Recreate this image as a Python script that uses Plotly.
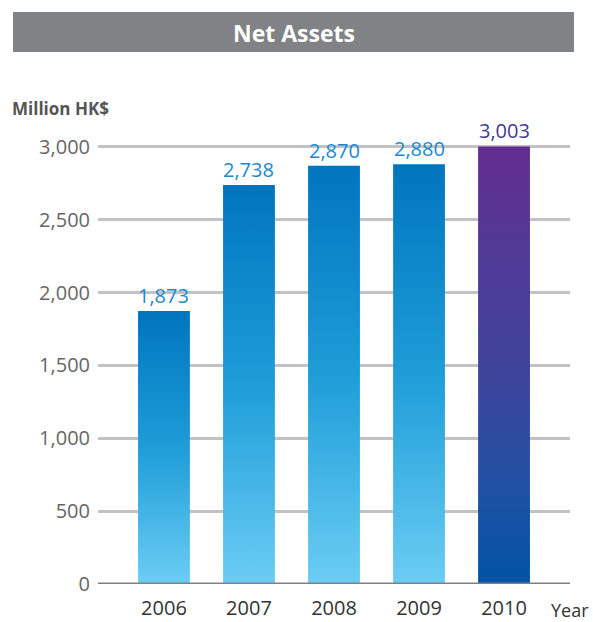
import plotly.graph_objects as go

years = ["2006", "2007", "2008", "2009", "2010"]
net_assets = [1873, 2738, 2870, 2880, 3003]
value_labels = ["1,873", "2,738", "2,870", "2,880", "3,003"]
y_ticks = [0, 500, 1000, 1500, 2000, 2500, 3000]
y_tick_labels = ["0", "500", "1,000", "1,500", "2,000", "2,500", "3,000"]

blue_scale = [[0, "#6bcdf4"], [0.5, "#1e9dd8"], [1, "#0075bf"]]
purple_scale = [[0, "#0054a6"], [0.25, "#2450a2"], [0.5, "#3f439a"], [0.75, "#503a96"], [1, "#632d90"]]

W, H = 593, 622
ML, MR, MT, MB = 98, 23, 125, 38
PW, PH = W - ML - MR, H - MT - MB

def px(x):
    return (x - ML) / PW

def py(y):
    return (H - MB - y) / PH

half = 0.305
fig = go.Figure()
for i, (yr, v) in enumerate(zip(years, net_assets)):
    scale = purple_scale if yr == "2010" else blue_scale
    fig.add_trace(go.Scatter(
        x=[i - half, i + half, i + half, i - half, i - half],
        y=[0, 0, v, v, 0],
        mode="lines", fill="toself",
        line=dict(width=0),
        fillgradient=dict(type="vertical", colorscale=scale),
        hoverinfo="skip", showlegend=False,
    ))
    fig.add_annotation(
        x=i, y=v, text=value_labels[i], showarrow=False,
        yanchor="bottom", yshift=0,
        font=dict(size=20, color="#3d3a94" if yr == "2010" else "#1a88d0",
                  family="Open Sans"),
    )

fig.update_layout(
    width=W, height=H,
    margin=dict(l=ML, r=MR, t=MT, b=MB),
    paper_bgcolor="white", plot_bgcolor="white",
    font=dict(family="Open Sans", color="#606060"),
    xaxis=dict(range=[-0.776, 4.776], tickvals=list(range(len(years))), ticktext=years,
               showgrid=False, zeroline=False, showline=False, automargin=False,
               ticklabelstandoff=10,
               tickfont=dict(size=20, color="#333333"), ticks="", fixedrange=True),
    yaxis=dict(range=[0, 3150], tickvals=y_ticks, ticktext=y_tick_labels,
               showgrid=True, gridcolor="#c2c2c6", gridwidth=2.5,
               zeroline=False, showline=False, ticks="", automargin=False,
               ticklabelstandoff=7,
               tickfont=dict(size=20, color="#666666")),
    shapes=[
        dict(type="rect", xref="paper", yref="paper",
             x0=px(13), x1=px(574), y0=py(52), y1=py(12),
             fillcolor="#818285", line=dict(width=0), layer="below"),
        dict(type="line", xref="paper", yref="y",
             x0=0, x1=1, y0=0, y1=0,
             line=dict(color="#808082", width=3), layer="above"),
    ],
    annotations=list(fig.layout.annotations) + [
        dict(text="<b>Net Assets</b>", xref="paper", yref="paper",
             x=px(294), y=py(33), xanchor="center", yanchor="middle", showarrow=False,
             font=dict(size=23, color="white", family="Open Sans")),
        dict(text="<b>Million HK$</b>", xref="paper", yref="paper",
             x=px(10), y=py(108), xanchor="left", yanchor="middle", showarrow=False,
             font=dict(size=17, color="#555555", family="Open Sans")),
        dict(text="Year", xref="paper", yref="paper",
             x=px(549), y=py(610), xanchor="left", yanchor="middle", showarrow=False,
             font=dict(size=18, color="#333333", family="Open Sans")),
    ],
)

fig.write_html("out.html")
